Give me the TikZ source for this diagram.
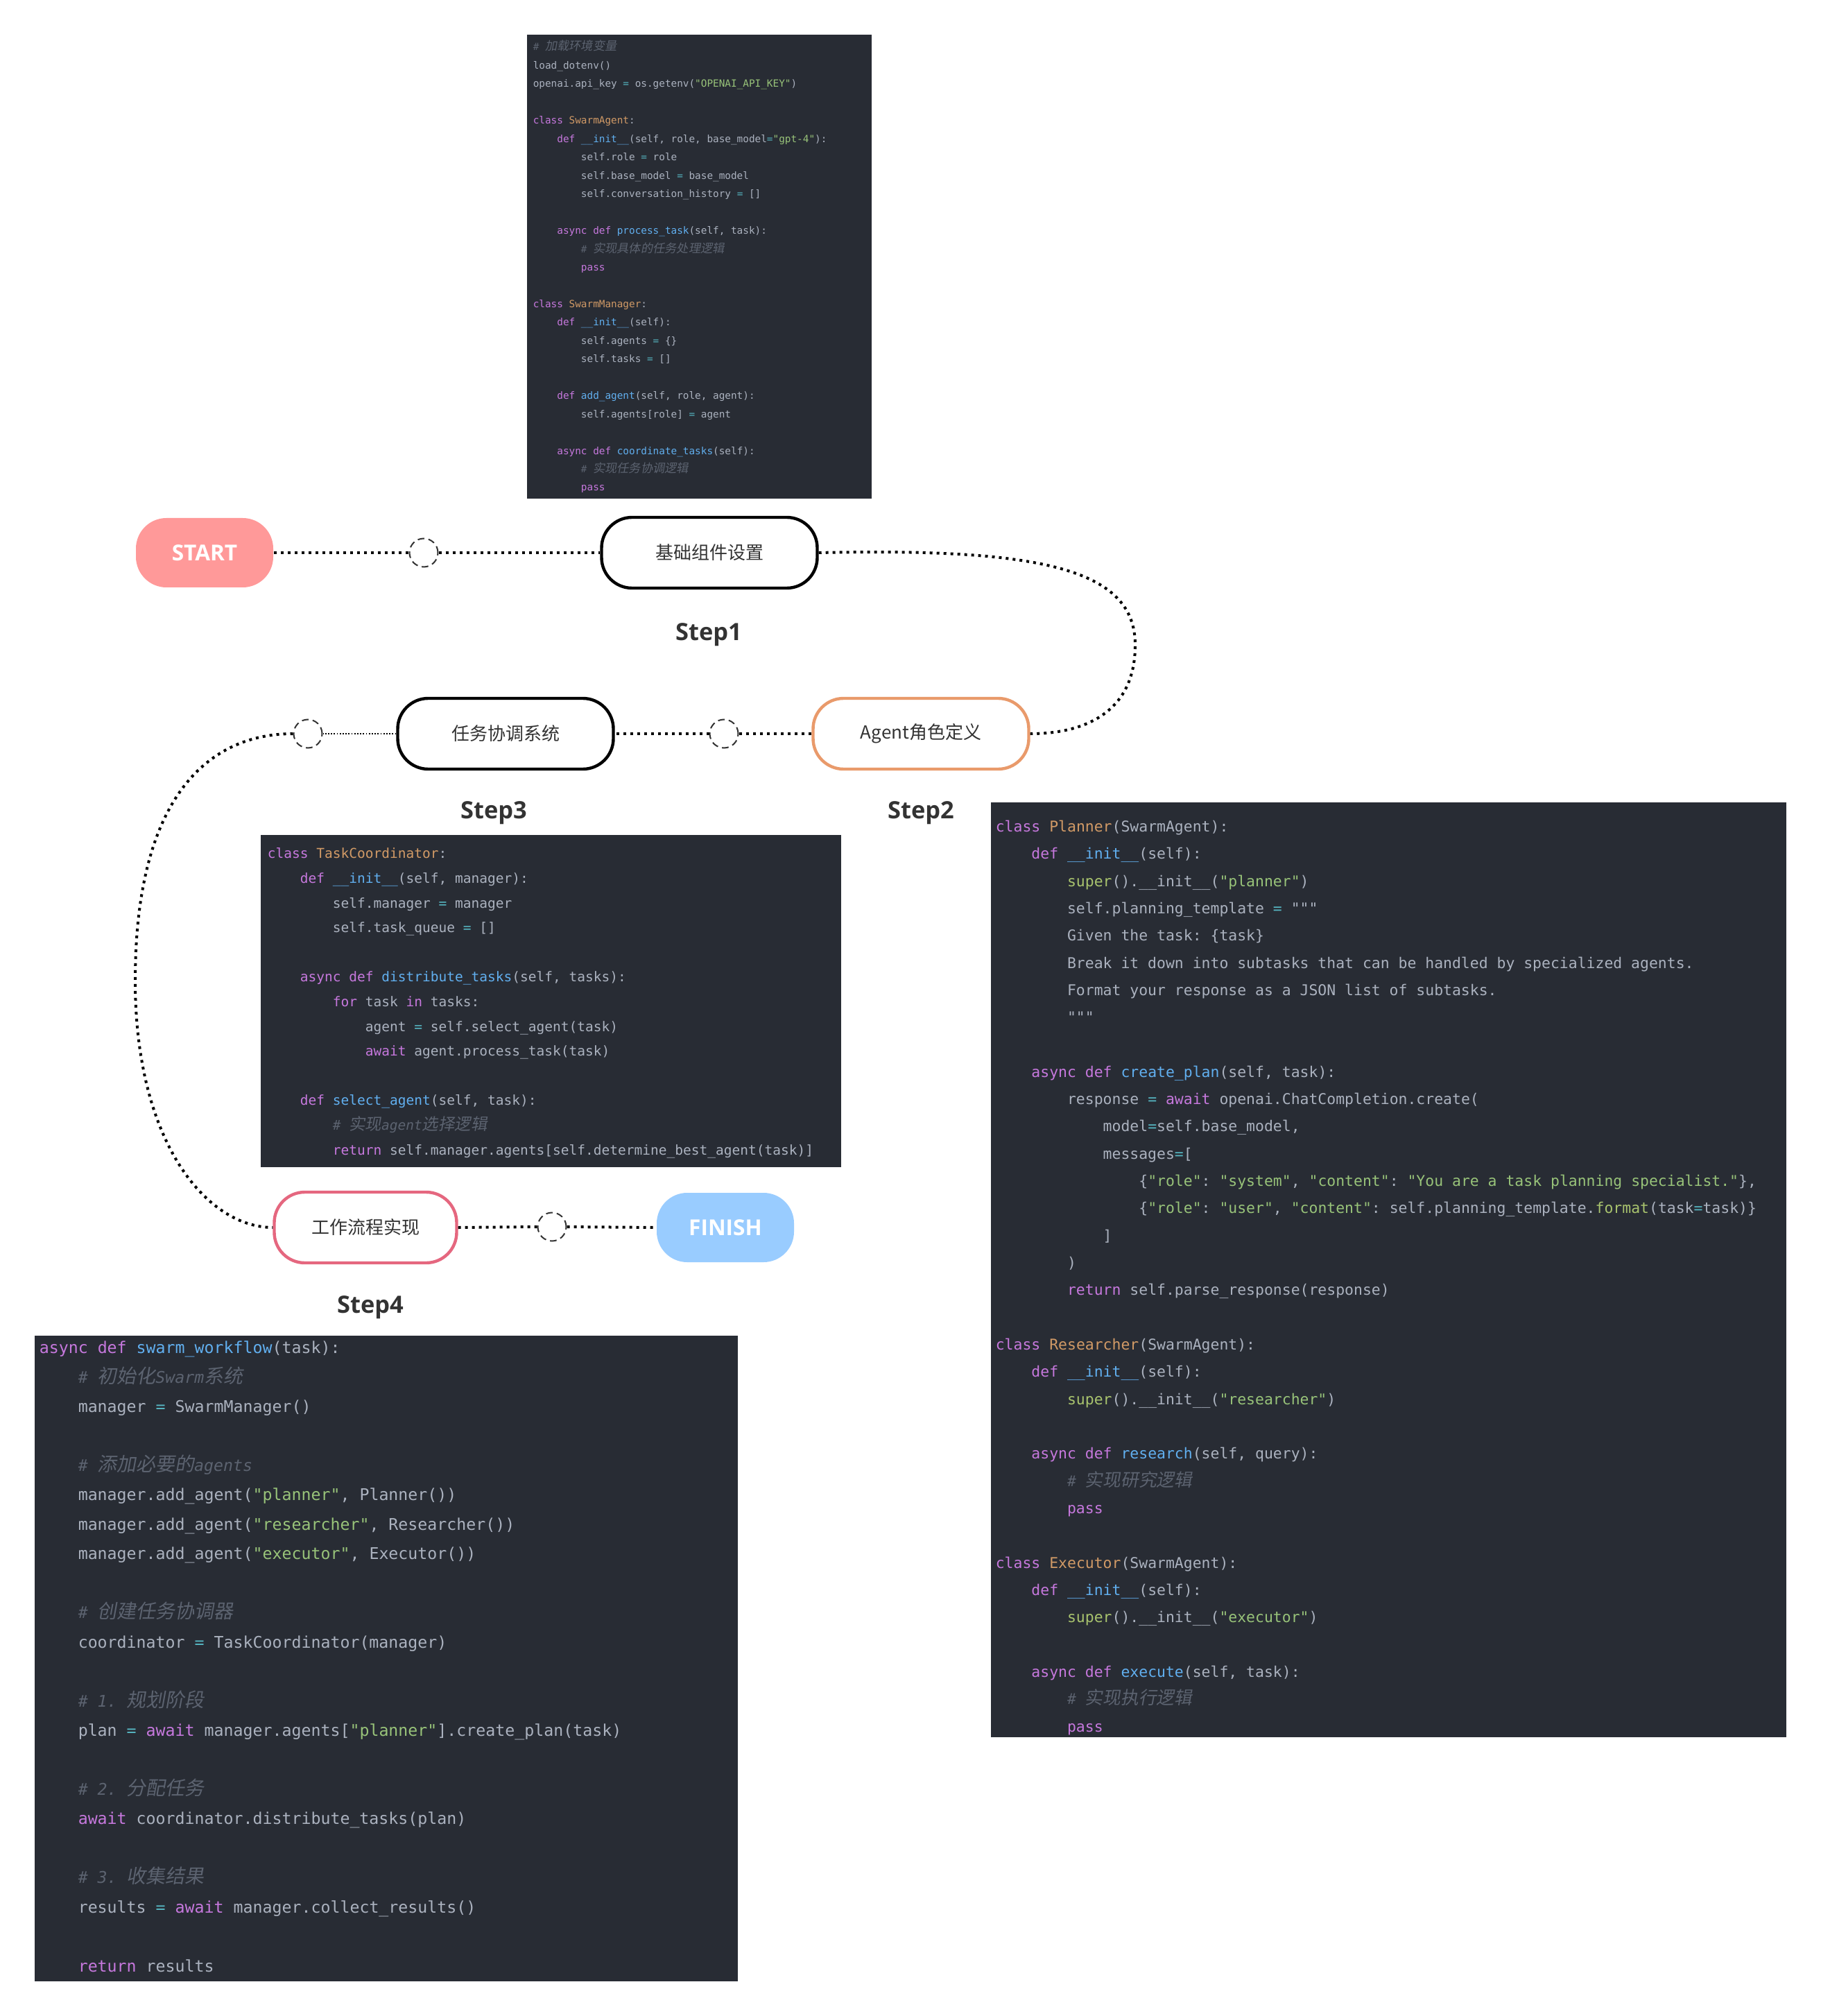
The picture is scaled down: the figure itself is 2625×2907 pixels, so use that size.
\documentclass[tikz,border=0pt]{standalone}
\usepackage{fontspec}
\setmonofont{DejaVu Sans Mono}
\newfontfamily\zhfont{Noto Sans CJK SC}[FakeSlant=0.18,Scale=1.2]
\newfontfamily\zhnode{Noto Sans CJK SC}
\newfontfamily\lblfont{Open Sans}
\definecolor{codebg}{HTML}{282C34}
\definecolor{ctx}{HTML}{ABB2BF}
\definecolor{ckw}{HTML}{C678DD}
\definecolor{ccls}{HTML}{D19A66}
\definecolor{cfn}{HTML}{61AFEF}
\definecolor{cstr}{HTML}{98C379}
\definecolor{csup}{HTML}{A9C46E}
\definecolor{ccm}{HTML}{5C6370}
\definecolor{cop}{HTML}{56B6C2}
\definecolor{startc}{HTML}{FF9999}
\definecolor{finishc}{HTML}{99CCFF}
\definecolor{agentc}{HTML}{E99A6B}
\definecolor{flowc}{HTML}{E5677F}
\definecolor{darktxt}{HTML}{333333}
\newcommand\Kw[1]{\textcolor{ckw}{#1}}
\newcommand\Cls[1]{\textcolor{ccls}{#1}}
\newcommand\Fn[1]{\textcolor{cfn}{#1}}
\newcommand\Str[1]{\textcolor{cstr}{#1}}
\newcommand\Sup[1]{\textcolor{csup}{#1}}
\newcommand\EQ{\textcolor{cop}{=}}
\newcommand\zh[1]{{\zhfont #1}}
\newcommand\Cmt[1]{{\color{ccm}\itshape #1}}
\newcommand\Ind{\hspace*{2.408em}}
\newcommand\BL{\mbox{}}
\tikzset{
  stepbox/.style={draw, rectangle, rounded corners=11pt, fill=white, line width=1.1pt,
    minimum width=77.75pt, minimum height=25.5pt, inner sep=0pt,
    font=\zhnode\fontsize{6.5pt}{7pt}\selectfont, text=darktxt},
  endbox/.style={rectangle, rounded corners=11pt, minimum width=49.5pt, minimum height=25pt,
    inner sep=0pt, text=white, font=\lblfont\bfseries\fontsize{7.9pt}{9pt}\selectfont},
  holenode/.style={circle, draw=darktxt, line width=0.5pt, dash pattern=on 2.4pt off 1.5pt,
    minimum size=10.25pt, inner sep=0pt},
  dotline/.style={line width=1pt, dash pattern=on 1pt off 1.5pt},
  thindot/.style={line width=0.45pt, dash pattern=on 0.45pt off 0.6pt},
  steplabel/.style={anchor=base, font=\lblfont\bfseries\fontsize{8.6pt}{10pt}\selectfont, text=darktxt},
  codeblk/.style={anchor=base west, align=left, inner sep=0pt, text=ctx},
}
\begin{document}
\begin{tikzpicture}[x=0.25pt,y=-0.25pt]
\useasboundingbox (0,0) rectangle (2625,2907);
\fill[white] (0,0) rectangle (2625,2907);

% code panels
\fill[codebg] (760,50) rectangle (1257,719);
\fill[codebg] (376,1204) rectangle (1213,1683);
\fill[codebg] (1429,1157) rectangle (2576,2505);
\fill[codebg] (50,1926) rectangle (1064,2857);

% (the base anchor of a multi-line node is the baseline of its last line)
\node[codeblk, font=\ttfamily\fontsize{3.59pt}{6.615pt}\selectfont] (codeA) at (768,708) {%
\Cmt{\# \zh{加载环境变量}}\\
load\_dotenv()\\
openai.api\_key \EQ{} os.getenv(\Str{"OPENAI\_API\_KEY"})\\
\BL\\
\Kw{class} \Cls{SwarmAgent}:\\
\Ind\Kw{def} \Fn{\_\_init\_\_}(self, role, base\_model\EQ\Str{"gpt-4"}):\\
\Ind\Ind self.role \EQ{} role\\
\Ind\Ind self.base\_model \EQ{} base\_model\\
\Ind\Ind self.conversation\_history \EQ{} []\\
\BL\\
\Ind\Kw{async} \Kw{def} \Fn{process\_task}(self, task):\\
\Ind\Ind\Cmt{\# \zh{实现具体的任务处理逻辑}}\\
\Ind\Ind\Kw{pass}\\
\BL\\
\Kw{class} \Cls{SwarmManager}:\\
\Ind\Kw{def} \Fn{\_\_init\_\_}(self):\\
\Ind\Ind self.agents \EQ{} \{\}\\
\Ind\Ind self.tasks \EQ{} []\\
\BL\\
\Ind\Kw{def} \Fn{add\_agent}(self, role, agent):\\
\Ind\Ind self.agents[role] \EQ{} agent\\
\BL\\
\Ind\Kw{async} \Kw{def} \Fn{coordinate\_tasks}(self):\\
\Ind\Ind\Cmt{\# \zh{实现任务协调逻辑}}\\
\Ind\Ind\Kw{pass}};

\node[codeblk, font=\ttfamily\fontsize{4.88pt}{8.9pt}\selectfont] (codeB) at (385,1665) {%
\Kw{class} \Cls{TaskCoordinator}:\\
\Ind\Kw{def} \Fn{\_\_init\_\_}(self, manager):\\
\Ind\Ind self.manager \EQ{} manager\\
\Ind\Ind self.task\_queue \EQ{} []\\
\BL\\
\Ind\Kw{async} \Kw{def} \Fn{distribute\_tasks}(self, tasks):\\
\Ind\Ind\Kw{for} task \Kw{in} tasks:\\
\Ind\Ind\Ind agent \EQ{} self.select\_agent(task)\\
\Ind\Ind\Ind\Kw{await} agent.process\_task(task)\\
\BL\\
\Ind\Kw{def} \Fn{select\_agent}(self, task):\\
\Ind\Ind\Cmt{\# \zh{实现}agent\zh{选择逻辑}}\\
\Ind\Ind\Kw{return} self.manager.agents[self.determine\_best\_agent(task)]};

\node[codeblk, font=\ttfamily\fontsize{5.36pt}{9.83pt}\selectfont] (codeC) at (1435,2497) {%
\Kw{class} \Cls{Planner}(SwarmAgent):\\
\Ind\Kw{def} \Fn{\_\_init\_\_}(self):\\
\Ind\Ind\Sup{super}().\_\_init\_\_(\Str{"planner"})\\
\Ind\Ind self.planning\_template \EQ{} """\\
\Ind\Ind Given the task: \{task\}\\
\Ind\Ind Break it down into subtasks that can be handled by specialized agents.\\
\Ind\Ind Format your response as a JSON list of subtasks.\\
\Ind\Ind """\\
\BL\\
\Ind\Kw{async} \Kw{def} \Fn{create\_plan}(self, task):\\
\Ind\Ind response \EQ{} \Kw{await} openai.ChatCompletion.create(\\
\Ind\Ind\Ind model\EQ{}self.base\_model,\\
\Ind\Ind\Ind messages\EQ{}[\\
\Ind\Ind\Ind\Ind\{\Str{"role"}: \Str{"system"}, \Str{"content"}: \Str{"You are a task planning specialist."}\},\\
\Ind\Ind\Ind\Ind\{\Str{"role"}: \Str{"user"}, \Str{"content"}: self.planning\_template.\Sup{format}(task\EQ{}task)\}\\
\Ind\Ind\Ind]\\
\Ind\Ind)\\
\Ind\Ind\Kw{return} self.parse\_response(response)\\
\BL\\
\Kw{class} \Cls{Researcher}(SwarmAgent):\\
\Ind\Kw{def} \Fn{\_\_init\_\_}(self):\\
\Ind\Ind\Sup{super}().\_\_init\_\_(\Str{"researcher"})\\
\BL\\
\Ind\Kw{async} \Kw{def} \Fn{research}(self, query):\\
\Ind\Ind\Cmt{\# \zh{实现研究逻辑}}\\
\Ind\Ind\Kw{pass}\\
\BL\\
\Kw{class} \Cls{Executor}(SwarmAgent):\\
\Ind\Kw{def} \Fn{\_\_init\_\_}(self):\\
\Ind\Ind\Sup{super}().\_\_init\_\_(\Str{"executor"})\\
\BL\\
\Ind\Kw{async} \Kw{def} \Fn{execute}(self, task):\\
\Ind\Ind\Cmt{\# \zh{实现执行逻辑}}\\
\Ind\Ind\Kw{pass}};

\node[codeblk, font=\ttfamily\fontsize{5.81pt}{10.61pt}\selectfont] (codeD) at (56,2843) {%
\Kw{async} \Kw{def} \Fn{swarm\_workflow}(task):\\
\Ind\Cmt{\# \zh{初始化}Swarm\zh{系统}}\\
\Ind manager \EQ{} SwarmManager()\\
\BL\\
\Ind\Cmt{\# \zh{添加必要的}agents}\\
\Ind manager.add\_agent(\Str{"planner"}, Planner())\\
\Ind manager.add\_agent(\Str{"researcher"}, Researcher())\\
\Ind manager.add\_agent(\Str{"executor"}, Executor())\\
\BL\\
\Ind\Cmt{\# \zh{创建任务协调器}}\\
\Ind coordinator \EQ{} TaskCoordinator(manager)\\
\BL\\
\Ind\Cmt{\# 1. \zh{规划阶段}}\\
\Ind plan \EQ{} \Kw{await} manager.agents[\Str{"planner"}].create\_plan(task)\\
\BL\\
\Ind\Cmt{\# 2. \zh{分配任务}}\\
\Ind\Kw{await} coordinator.distribute\_tasks(plan)\\
\BL\\
\Ind\Cmt{\# 3. \zh{收集结果}}\\
\Ind results \EQ{} \Kw{await} manager.collect\_results()\\
\BL\\
\Ind\Kw{return} results};

% flow nodes
\node[endbox, fill=startc] (start) at (295,797) {START};
\node[stepbox, draw=black] (n1) at (1023,797) {基础组件设置};
\node[stepbox, draw=agentc] (n2) at (1328,1058) {Agent角色定义};
\node[stepbox, draw=black] (n3) at (729,1058) {任务协调系统};
\node[stepbox, draw=flowc, minimum width=65.75pt] (n4) at (527,1770) {工作流程实现};
\node[endbox, fill=finishc] (finish) at (1046,1770) {FINISH};

\node[holenode] (h1) at (611,797) {};
\node[holenode] (h2) at (1044,1058) {};
\node[holenode] (h3) at (444,1058) {};
\node[holenode] (h4) at (796,1769) {};

\coordinate (bendR) at (1637,930);
\coordinate (bendL) at (195,1414);

\draw[dotline] (start.east) -- (h1.west);
\draw[dotline] (h1.east) -- (n1.west);
\draw[dotline] (n1.east) .. controls (1500,790) and (1637,820) .. (bendR)
                         .. controls (1637,1030) and (1560,1058) .. (n2.east);
\draw[dotline] (n2.west) -- (h2.east);
\draw[dotline] (h2.west) -- (n3.east);
\draw[thindot] (n3.west) -- (h3.east);
\draw[dotline] (h3.west) .. controls (300,1058) and (195,1150) .. (bendL)
                         .. controls (195,1650) and (300,1770) .. (n4.west);
\draw[dotline] (n4.east) -- (h4.west);
\draw[dotline] (h4.east) -- (finish.west);

% step labels
\node[steplabel] (s1) at (1022,924) {Step1};
\node[steplabel] (s2) at (1328,1180) {Step2};
\node[steplabel] (s3) at (712,1180) {Step3};
\node[steplabel] (s4) at (534,1893) {Step4};
\end{tikzpicture}
\end{document}
